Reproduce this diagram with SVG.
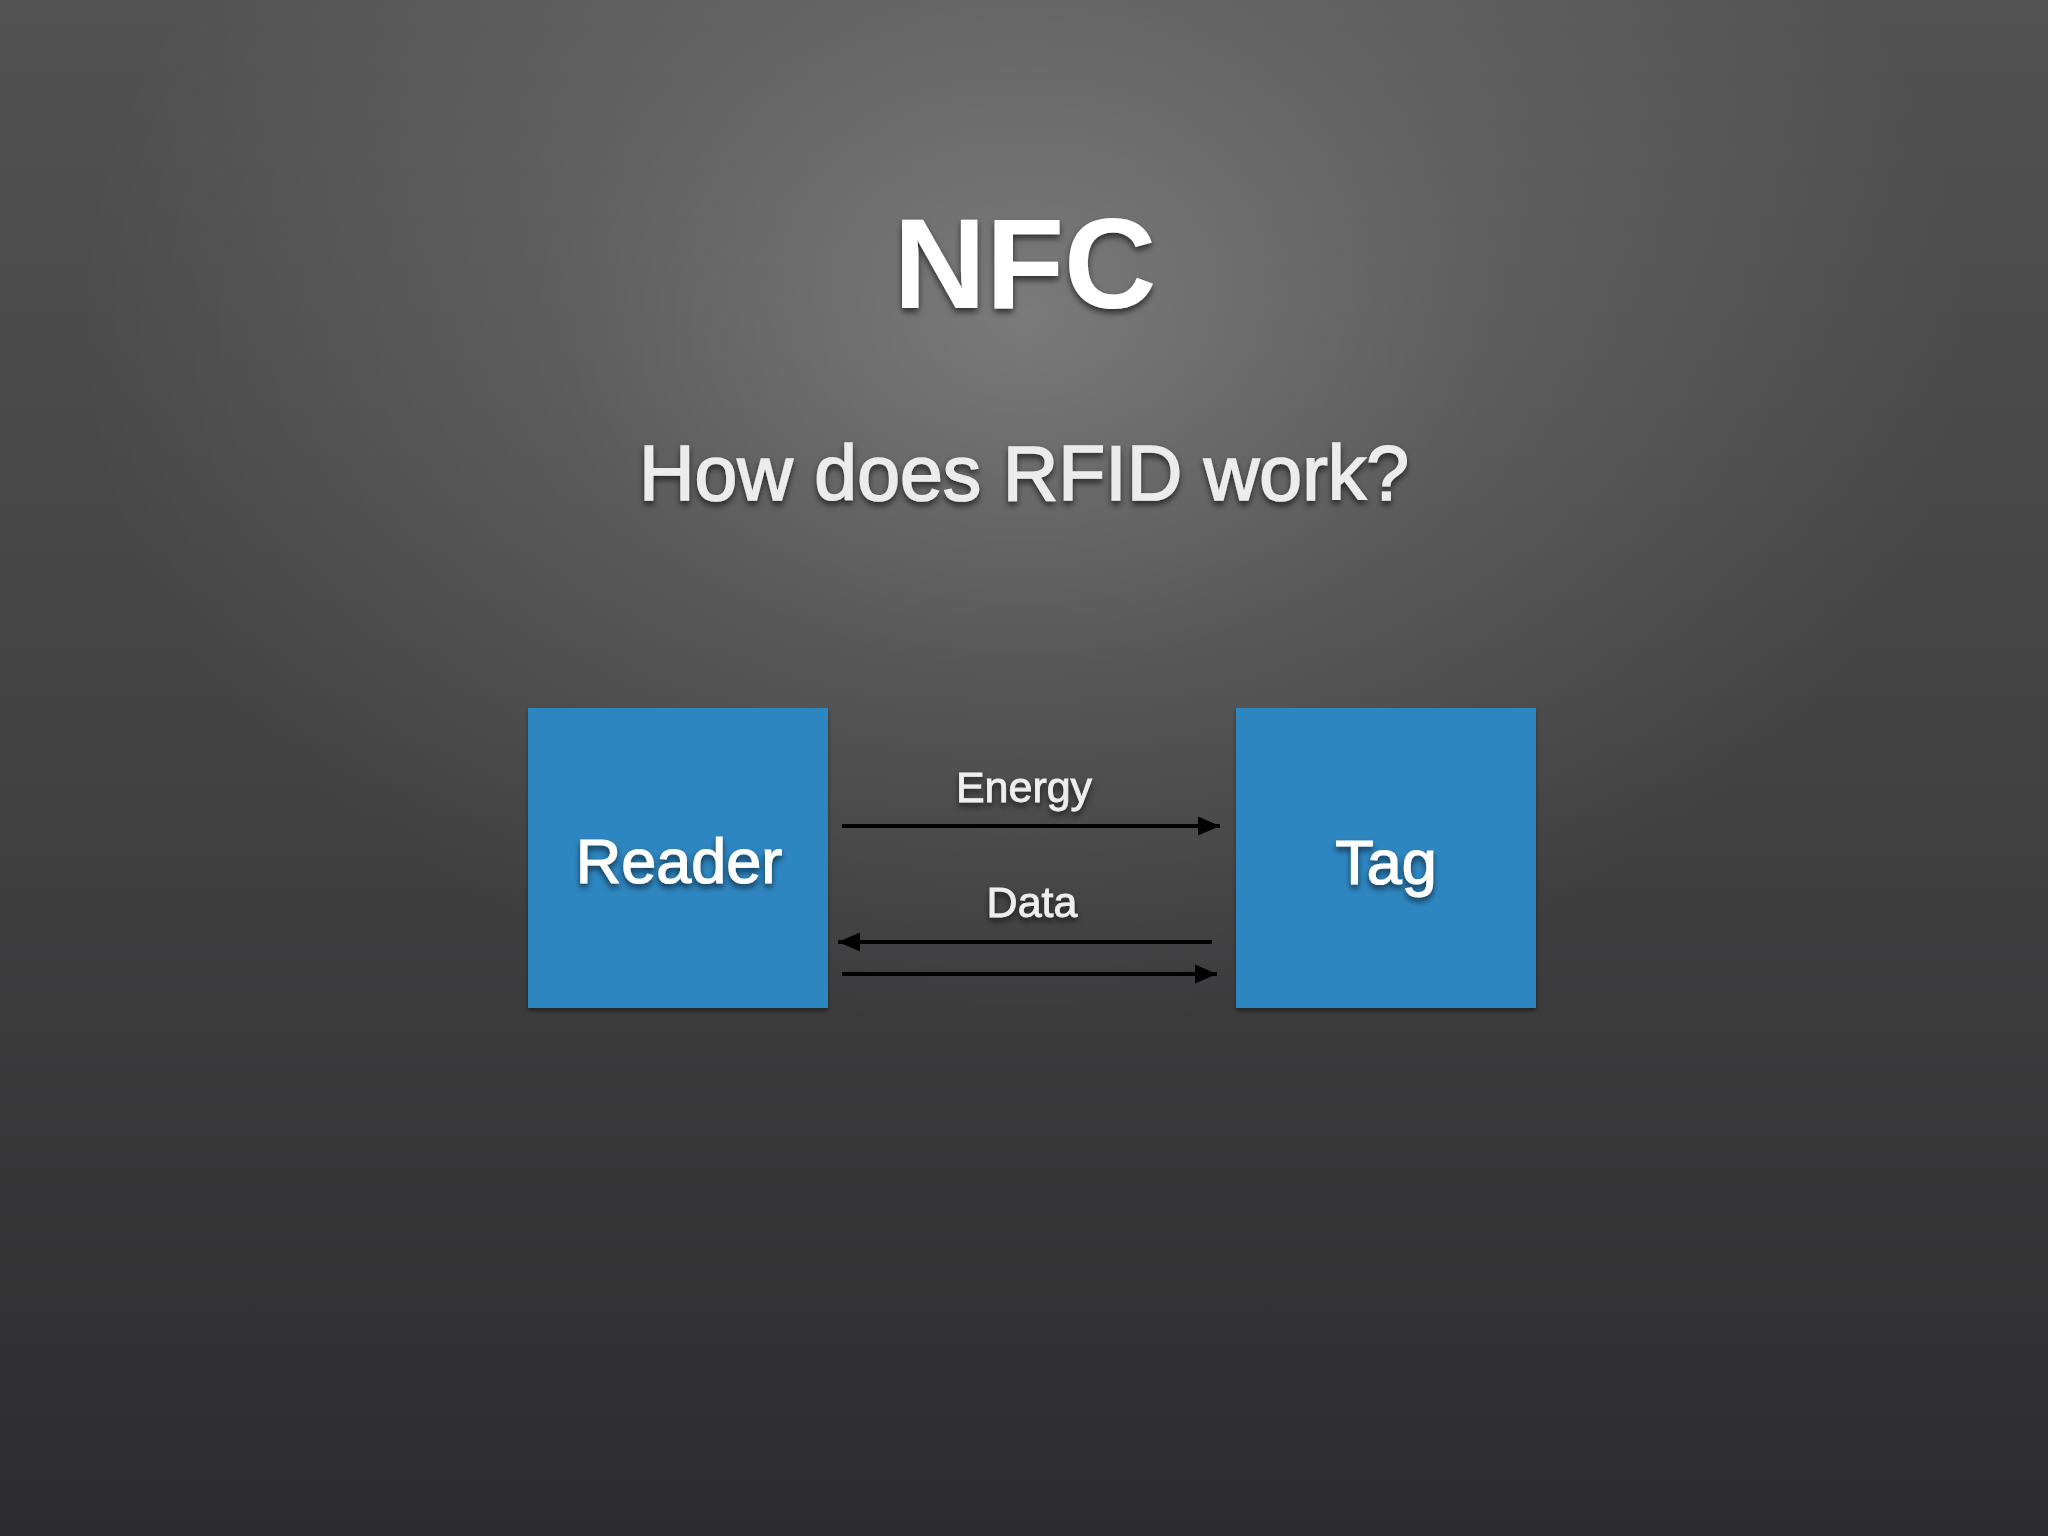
<svg xmlns="http://www.w3.org/2000/svg" width="2048" height="1536" viewBox="0 0 2048 1536">
  <defs>
    <linearGradient id="bgLin" x1="0" y1="0" x2="0" y2="1">
      <stop offset="0" stop-color="#525252"/>
      <stop offset="0.5" stop-color="#424243"/>
      <stop offset="1" stop-color="#2c2c2e"/>
    </linearGradient>
    <radialGradient id="bgRad" cx="1024" cy="320" r="950" gradientUnits="userSpaceOnUse" gradientTransform="translate(1024 320) scale(1 0.75) translate(-1024 -320)">
      <stop offset="0" stop-color="#ffffff" stop-opacity="0.26"/>
      <stop offset="0.5" stop-color="#ffffff" stop-opacity="0.1"/>
      <stop offset="1" stop-color="#ffffff" stop-opacity="0"/>
    </radialGradient>
    <filter id="txtShadow" x="-10%" y="-20%" width="120%" height="150%">
      <feDropShadow dx="0" dy="4" stdDeviation="3" flood-color="#000" flood-opacity="0.6"/>
    </filter>
    <filter id="boxShadow" x="-10%" y="-10%" width="120%" height="120%">
      <feDropShadow dx="0" dy="3" stdDeviation="2" flood-color="#000" flood-opacity="0.4"/>
    </filter>
    <marker id="arrow" viewBox="0 0 22 20" refX="22" refY="10" markerWidth="22" markerHeight="20" markerUnits="userSpaceOnUse" orient="auto">
      <path d="M0,0.5 L22,10 L0,19.5 Z" fill="#000"/>
    </marker>
  </defs>
  <style>
    .title { font-family: "Liberation Sans", Arial, sans-serif; font-weight: bold; font-size: 128px; fill: #ffffff; text-anchor: middle; }
    .sub { font-family: "Liberation Sans", Arial, sans-serif; font-size: 77px; fill: #ececec; stroke: #ececec; stroke-width: 1.6; text-anchor: middle; }
    .node { fill: #2e86c1; }
    .nodeLabel { font-family: "Liberation Sans", Arial, sans-serif; font-size: 63px; fill: #ffffff; stroke: #ffffff; stroke-width: 1.2; text-anchor: middle; }
    .edgeLabel { font-family: "Liberation Sans", Arial, sans-serif; font-size: 43px; fill: #eeeeee; stroke: #eeeeee; stroke-width: 0.8; text-anchor: middle; }
    .edge { stroke: #000; stroke-width: 4; fill: none; marker-end: url(#arrow); }
  </style>

  <rect x="0" y="0" width="2048" height="1536" fill="url(#bgLin)"/>
  <rect x="0" y="0" width="2048" height="1536" fill="url(#bgRad)"/>

  <text class="title" x="1025" y="308" filter="url(#txtShadow)">NFC</text>
  <text class="sub" x="1024" y="500" filter="url(#txtShadow)">How does RFID work?</text>

  <g id="reader">
    <rect class="node" x="528" y="708" width="300" height="300" filter="url(#boxShadow)"/>
    <text class="nodeLabel" x="679" y="883" filter="url(#txtShadow)">Reader</text>
  </g>
  <g id="tag">
    <rect class="node" x="1236" y="708" width="300" height="300" filter="url(#boxShadow)"/>
    <text class="nodeLabel" x="1386" y="884" filter="url(#txtShadow)">Tag</text>
  </g>

  <g id="connectors">
    <line class="edge" x1="842" y1="826" x2="1220" y2="826"/>
    <line class="edge" x1="1212" y1="942" x2="838" y2="942"/>
    <line class="edge" x1="842" y1="974" x2="1217" y2="974"/>
    <text class="edgeLabel" x="1024" y="802" filter="url(#txtShadow)">Energy</text>
    <text class="edgeLabel" x="1032" y="917" filter="url(#txtShadow)">Data</text>
  </g>
</svg>
